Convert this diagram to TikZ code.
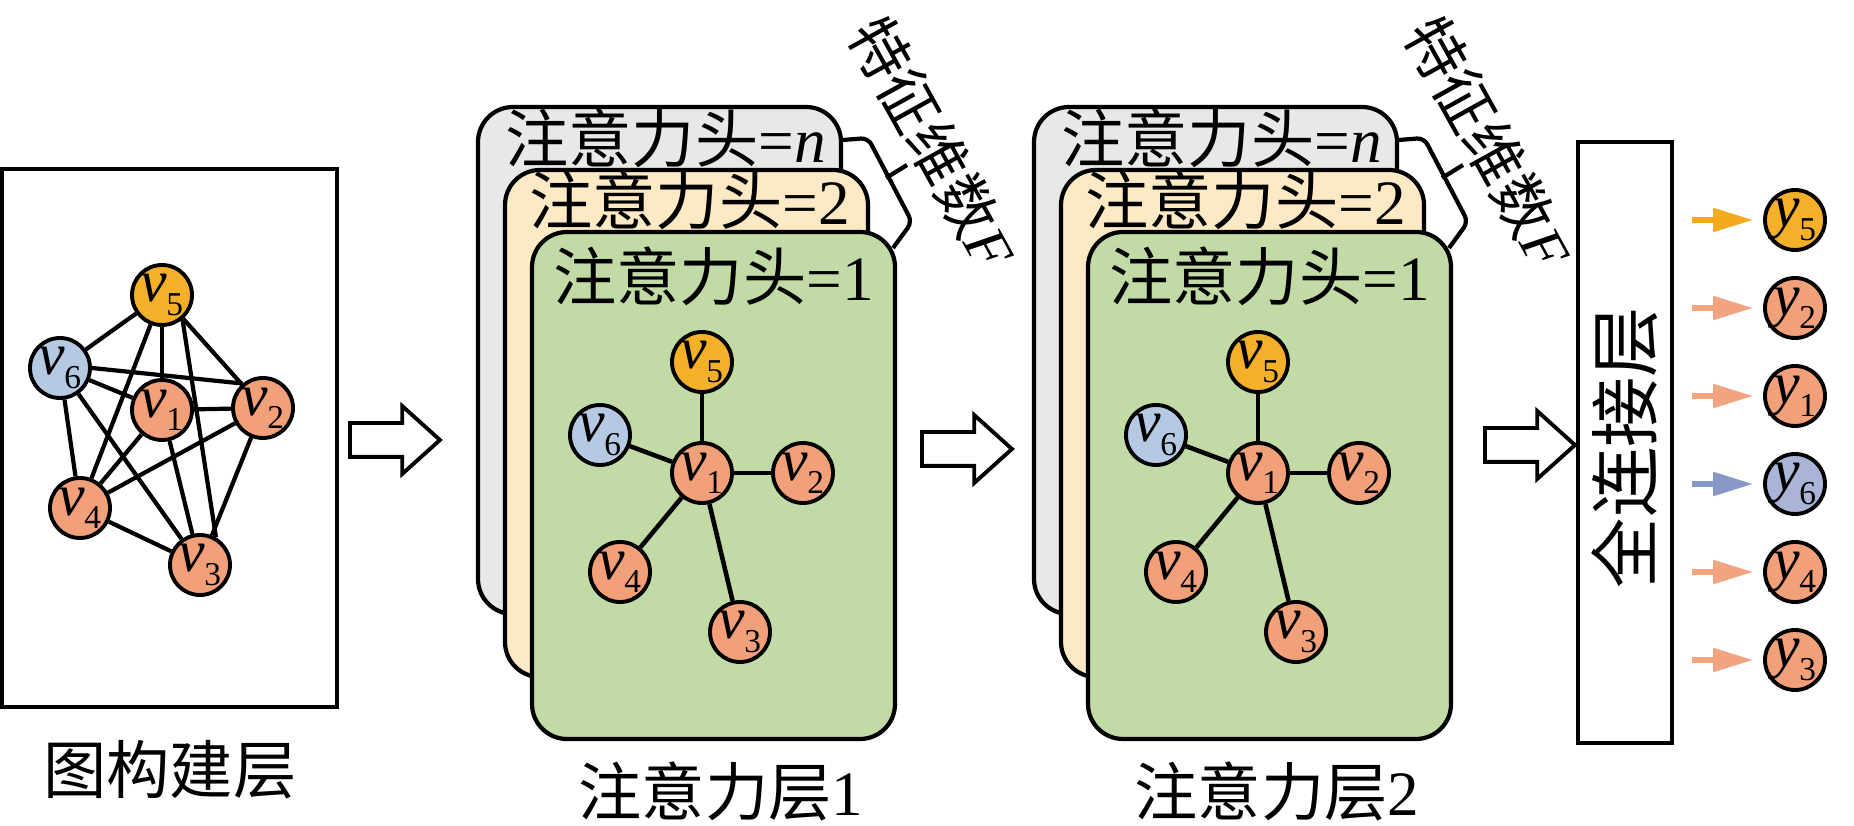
\documentclass[tikz,border=0pt]{standalone}
\usepackage{fontspec}
\setmainfont{Liberation Serif}
\newfontfamily\cjk{Noto Sans CJK SC}
\usepackage{tikz}
\usetikzlibrary{positioning, shapes.arrows, arrows.meta, backgrounds}

\definecolor{orng}{RGB}{245,176,42}
\definecolor{slmn}{RGB}{242,160,122}
\definecolor{blu}{RGB}{181,201,226}
\definecolor{bluy}{RGB}{170,180,214}
\definecolor{grn}{RGB}{193,218,166}
\definecolor{ylw}{RGB}{253,234,196}
\definecolor{gry}{RGB}{232,232,232}
\definecolor{arO}{RGB}{244,170,30}
\definecolor{arS}{RGB}{242,163,128}
\definecolor{arB}{RGB}{135,152,200}

\newcommand{\nd}[2]{\textit{#1}\kern-0.3pt\raisebox{-3.8pt}{\fontsize{9.5}{9.5}\selectfont #2}}

\begin{document}
\begin{tikzpicture}[on grid, node distance=1cm,
    vtx/.style={circle, draw, line width=1.1pt, minimum size=0.6cm, inner sep=0pt, font=\fontsize{17}{17}\selectfont},
    card/.style={draw, line width=1.2pt, rounded corners=0.35cm, minimum width=3.63cm, minimum height=5.07cm},
    headtext/.style={font=\fontsize{18}{18}\selectfont, inner sep=0pt},
    hollow/.style={single arrow, draw, fill=white, line width=1.1pt, anchor=tail, minimum height=0.9cm, minimum width=0.64cm, single arrow head extend=0.17cm, single arrow tip angle=84, inner sep=0.15cm},
    outarrow/.style={line width=1.5pt, shorten <=0.18cm, shorten >=0.1cm, -{Triangle[length=0.4cm, width=0.23cm]}},
    layername/.style={font=\fontsize{18}{18}\selectfont, inner sep=0pt}]

  \useasboundingbox (0,0) rectangle (18.54,8.26);

  \node[draw, line width=1.2pt, minimum width=3.35cm, minimum height=5.38cm] (g_box) at (1.695,3.88) {};
  \node[vtx, fill=slmn] (g_1) at (1.62,4.16) {\nd{v}{1}};
  \node[vtx, fill=slmn] (g_2) at (2.63,4.18) {\nd{v}{2}};
  \node[vtx, fill=slmn] (g_3) at (2.00,2.61) {\nd{v}{3}};
  \node[vtx, fill=slmn] (g_4) at (0.80,3.18) {\nd{v}{4}};
  \node[vtx, fill=orng] (g_5) at (1.62,5.31) {\nd{v}{5}};
  \node[vtx, fill=blu] (g_6) at (0.60,4.58) {\nd{v}{6}};
  \begin{scope}[on background layer]
    \path[line width=1.2pt] (g_5) edge (g_6) edge (g_1) edge (g_2) edge (g_4);
    \path[line width=1.2pt] (g_6) edge (g_1) edge (g_4) edge (g_3);
    \path[line width=1.2pt] (g_1) edge (g_2) edge (g_4) edge (g_3);
    \path[line width=1.2pt] (g_2) edge (g_4) edge (g_3);
    \path[line width=1.2pt] (g_4) edge (g_3);
    \draw[line width=1.2pt] (g_5.-50) -- (g_3.60);
    \draw[line width=1.2pt] (g_6.0) -- (g_2.130);
  \end{scope}
  \node[layername] (t_g) at (1.70,0.56) {\cjk 图构建层};

  \node[hollow] (s_1) at (3.48,3.86) {};

  \node[card, fill=gry] (a_n) at (6.595,4.655) {};
  \node[headtext] (a_tn) at ([xshift=0.06cm, yshift=-0.33cm]a_n.north) {{\cjk 注意力头}=\textit{n}};
  \node[card, fill=ylw] (a_k) [below right=0.63 and 0.27 of a_n] {};
  \node[headtext] (a_tk) at ([xshift=0.03cm, yshift=-0.32cm]a_k.north) {{\cjk 注意力头}=2};
  \node[card, fill=grn] (a_c) [below right=0.62 and 0.27 of a_k] {};
  \node[headtext] (a_tc) at ([yshift=-0.46cm]a_c.north) {{\cjk 注意力头}=1};
  \node[vtx, fill=slmn] (a_1) at (7.02,3.53) {\nd{v}{1}};
  \node[vtx, fill=orng] (a_5) [above=1.11 of a_1] {\nd{v}{5}};
  \node[vtx, fill=slmn] (a_2) [right=1.01 of a_1] {\nd{v}{2}};
  \node[vtx, fill=blu] (a_6) [above left=0.38 and 1.02 of a_1] {\nd{v}{6}};
  \node[vtx, fill=slmn] (a_4) [below left=0.99 and 0.82 of a_1] {\nd{v}{4}};
  \node[vtx, fill=slmn] (a_3) [below right=1.59 and 0.38 of a_1] {\nd{v}{3}};
  \path[line width=1.3pt] (a_1) edge (a_5) edge (a_2) edge (a_6) edge (a_4) edge (a_3);
  \draw[line width=1.2pt, rounded corners=2pt] (8.43,6.86) -- (8.68,6.88) -- (9.12,6.04) -- (8.93,5.78);
  \draw[line width=1.2pt] (8.86,6.48) -- (9.07,6.61);
  \node[rotate=-61, font=\fontsize{17}{17}\selectfont, inner sep=0pt] (a_f) at (9.33,6.83) {{\cjk 特征维数}\textit{F}};
  \node[layername] (t_a) at (7.21,0.35) {{\cjk 注意力层}1};

  \node[hollow] (s_2) at (9.20,3.77) {};

  \node[card, fill=gry] (b_n) [right=5.56 of a_n] {};
  \node[headtext] (b_tn) at ([xshift=0.06cm, yshift=-0.33cm]b_n.north) {{\cjk 注意力头}=\textit{n}};
  \node[card, fill=ylw] (b_k) [below right=0.63 and 0.27 of b_n] {};
  \node[headtext] (b_tk) at ([xshift=0.03cm, yshift=-0.32cm]b_k.north) {{\cjk 注意力头}=2};
  \node[card, fill=grn] (b_c) [below right=0.62 and 0.27 of b_k] {};
  \node[headtext] (b_tc) at ([yshift=-0.46cm]b_c.north) {{\cjk 注意力头}=1};
  \node[vtx, fill=slmn] (b_1) [right=5.56 of a_1] {\nd{v}{1}};
  \node[vtx, fill=orng] (b_5) [above=1.11 of b_1] {\nd{v}{5}};
  \node[vtx, fill=slmn] (b_2) [right=1.01 of b_1] {\nd{v}{2}};
  \node[vtx, fill=blu] (b_6) [above left=0.38 and 1.02 of b_1] {\nd{v}{6}};
  \node[vtx, fill=slmn] (b_4) [below left=0.99 and 0.82 of b_1] {\nd{v}{4}};
  \node[vtx, fill=slmn] (b_3) [below right=1.59 and 0.38 of b_1] {\nd{v}{3}};
  \path[line width=1.3pt] (b_1) edge (b_5) edge (b_2) edge (b_6) edge (b_4) edge (b_3);
  \draw[line width=1.2pt, rounded corners=2pt] (13.99,6.86) -- (14.24,6.88) -- (14.68,6.04) -- (14.49,5.78);
  \draw[line width=1.2pt] (14.42,6.48) -- (14.63,6.61);
  \node[rotate=-61, font=\fontsize{17}{17}\selectfont, inner sep=0pt] (b_f) at (14.89,6.83) {{\cjk 特征维数}\textit{F}};
  \node[layername] (t_b) at (12.77,0.35) {{\cjk 注意力层}2};

  \node[hollow] (s_3) at (14.83,3.81) {};

  \node[draw, line width=1.2pt, minimum width=0.94cm, minimum height=6.01cm] (fc) at (16.25,3.835) {};
  \node[rotate=90, font=\fontsize{20}{20}\selectfont, inner sep=0pt] (fc_t) at ([yshift=-0.05cm]fc.center) {\cjk 全连接层};

  \node[vtx, fill=orng] (y_5) at (17.95,6.06) {\nd{y}{5}};
  \node[vtx, fill=slmn] (y_2) [below=0.88 of y_5] {\nd{y}{2}};
  \node[vtx, fill=slmn] (y_1) [below=0.88 of y_2] {\nd{y}{1}};
  \node[vtx, fill=bluy] (y_6) [below=0.88 of y_1] {\nd{y}{6}};
  \node[vtx, fill=slmn] (y_4) [below=0.88 of y_6] {\nd{y}{4}};
  \node[vtx, fill=slmn] (y_3) [below=0.88 of y_4] {\nd{y}{3}};
  \draw[outarrow, draw=arO] (fc.east |- y_5) -- (y_5);
  \draw[outarrow, draw=arS] (fc.east |- y_2) -- (y_2);
  \draw[outarrow, draw=arS] (fc.east |- y_1) -- (y_1);
  \draw[outarrow, draw=arB] (fc.east |- y_6) -- (y_6);
  \draw[outarrow, draw=arS] (fc.east |- y_4) -- (y_4);
  \draw[outarrow, draw=arS] (fc.east |- y_3) -- (y_3);
\end{tikzpicture}
\end{document}
